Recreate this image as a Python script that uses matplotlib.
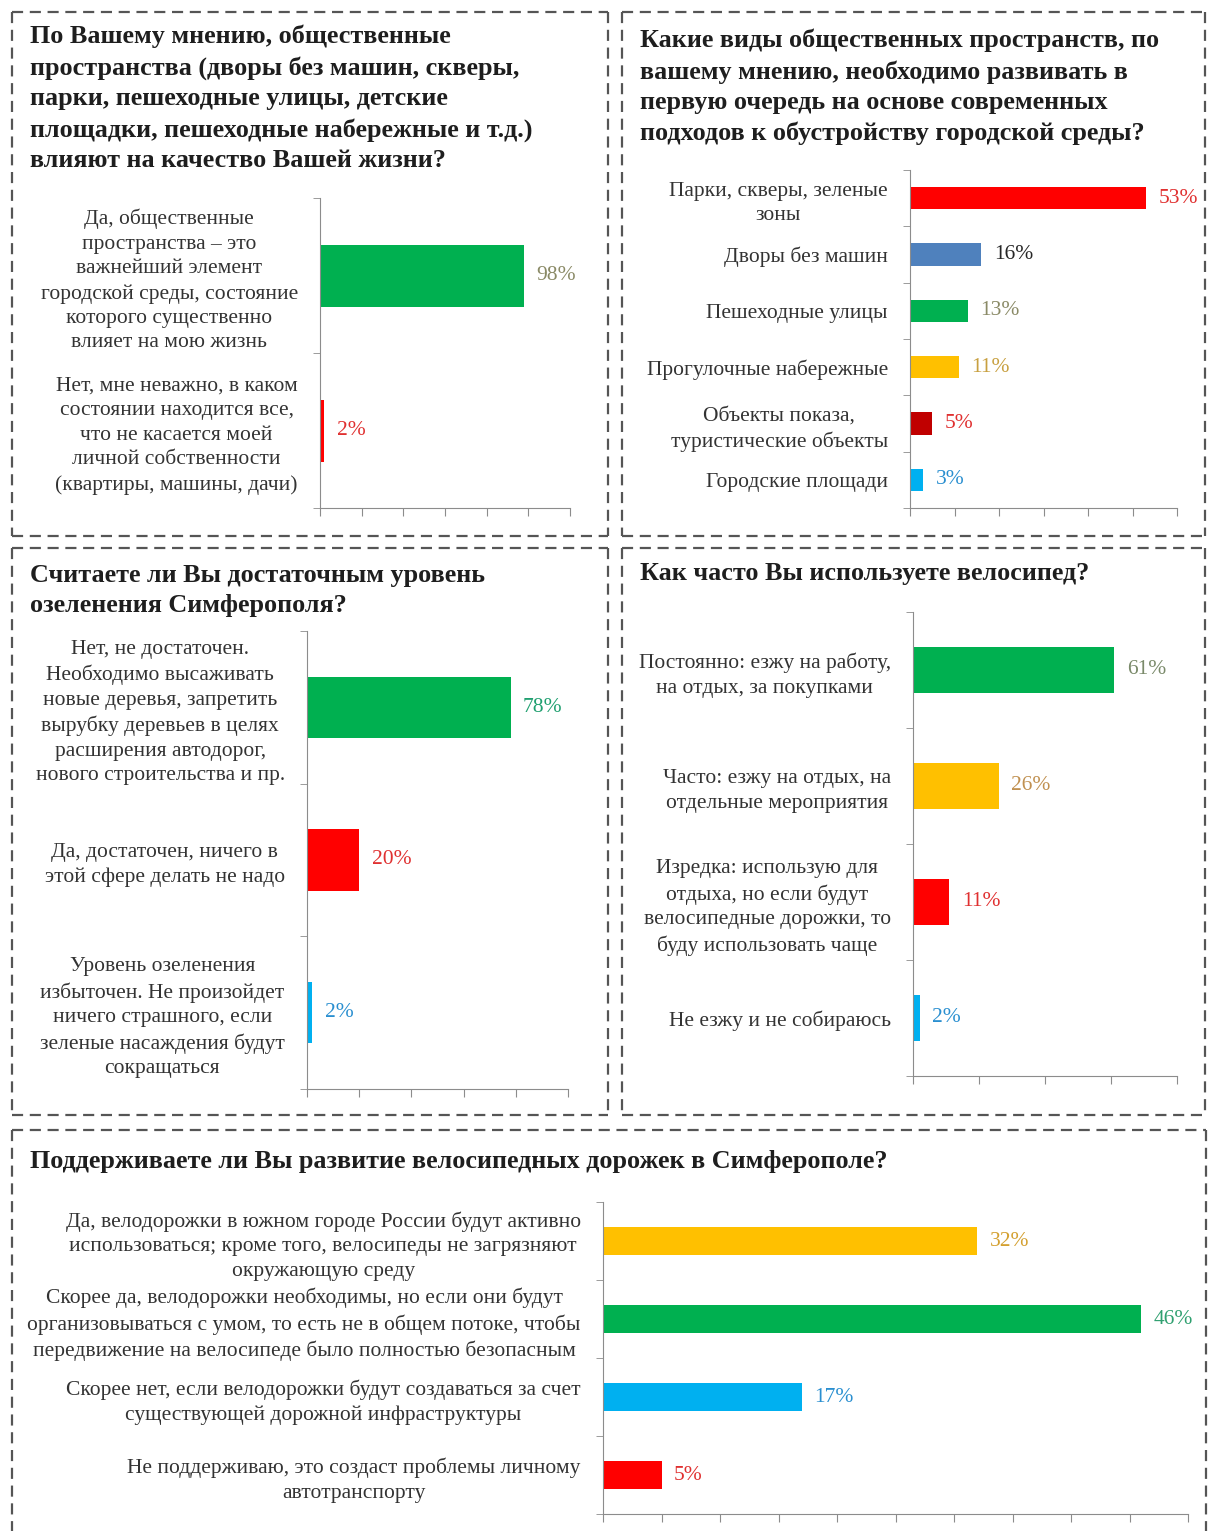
import numpy as np
import matplotlib
matplotlib.use("Agg")
import matplotlib.pyplot as plt
from matplotlib.lines import Line2D

plt.rcParams['font.family'] = ['Liberation Serif', 'DejaVu Serif']

W, H = 1208, 1531

# ---- data ----
title1 = ("По Вашему мнению, общественные\nпространства (дворы без машин, скверы,\n"
          "парки, пешеходные улицы, детские\nплощадки, пешеходные набережные и т.д.)\n"
          "влияют на качество Вашей жизни?")
cats1 = ["Да, общественные\nпространства – это\nважнейший элемент\nгородской среды, состояние\n"
         "которого существенно\nвлияет на мою жизнь",
         "Нет, мне неважно, в каком\nсостоянии находится все,\nчто не касается моей\n"
         "личной собственности\n(квартиры, машины, дачи)"]
vals1 = [98, 2]

title2 = ("Какие виды общественных пространств, по\nвашему мнению, необходимо развивать в\n"
          "первую очередь на основе современных\nподходов к обустройству городской среды?")
cats2 = ["Парки, скверы, зеленые\nзоны", "Дворы без машин", "Пешеходные улицы",
         "Прогулочные набережные", "Объекты показа,\nтуристические объекты", "Городские площади"]
vals2 = [53, 16, 13, 11, 5, 3]

title3 = "Считаете ли Вы достаточным уровень\nозеленения Симферополя?"
cats3 = ["Нет, не достаточен.\nНеобходимо высаживать\nновые деревья, запретить\nвырубку деревьев в целях\n"
         "расширения автодорог,\nнового строительства и пр.",
         "Да, достаточен, ничего в\nэтой сфере делать не надо",
         "Уровень озеленения\nизбыточен. Не произойдет\nничего страшного, если\nзеленые насаждения будут\n"
         "сокращаться"]
vals3 = [78, 20, 2]

title4 = "Как часто Вы используете велосипед?"
cats4 = ["Постоянно: езжу на работу,\nна отдых, за покупками",
         "Часто: езжу на отдых, на\nотдельные мероприятия",
         "Изредка: использую для\nотдыха, но если будут\nвелосипедные дорожки, то\nбуду использовать чаще",
         "Не езжу и не собираюсь"]
vals4 = [61, 26, 11, 2]

title5 = "Поддерживаете ли Вы развитие велосипедных дорожек в Симферополе?"
cats5 = ["Да, велодорожки в южном городе России будут активно\nиспользоваться; кроме того, велосипеды не загрязняют\n"
         "окружающую среду",
         "Скорее да, велодорожки необходимы, но если они будут\nорганизовываться с умом, то есть не в общем потоке, чтобы\n"
         "передвижение на велосипеде было полностью безопасным",
         "Скорее нет, если велодорожки будут создаваться за счет\nсуществующей дорожной инфраструктуры",
         "Не поддерживаю, это создаст проблемы личному\nавтотранспорту"]
vals5 = [32, 46, 17, 5]

# ---- styles ----
GREEN, RED, BLUE, GOLD, DRED, LBLUE = '#00B050', '#FF0000', '#4F81BD', '#FFC000', '#C00000', '#00B0F0'
bar1 = [GREEN, RED]
lab1 = ['#8a8a66', '#e03030']
bar2 = [RED, BLUE, GREEN, GOLD, DRED, LBLUE]
lab2 = ['#e03030', '#262626', '#8a8a66', '#c8a040', '#e03030', '#2a8fd0']
bar3 = [GREEN, RED, LBLUE]
lab3 = ['#20a070', '#e03030', '#2a8fd0']
bar4 = [GREEN, GOLD, RED, LBLUE]
lab4 = ['#7a8a6a', '#c09050', '#e03030', '#2a8fd0']
bar5 = [GOLD, GREEN, LBLUE, RED]
lab5 = ['#d4a030', '#30a070', '#2a8fd0', '#e03030']

AXC = '#8c8c8c'
TXT = '#333333'

fig = plt.figure(figsize=(W / 100, H / 100), dpi=100)


def px_axes(x0, y0, x1, y1):
    return fig.add_axes([x0 / W, 1 - y1 / H, (x1 - x0) / W, (y1 - y0) / H])


def panel_box(x0, y0, x1, y1):
    for xs, ys in [((x0, x1), (y0, y0)), ((x0, x1), (y1, y1)),
                   ((x0, x0), (y0, y1)), ((x1, x1), (y0, y1))]:
        fig.add_artist(Line2D([x / W for x in xs], [1 - y / H for y in ys],
                              color='#555555', lw=1.6, dashes=(5, 3)))


def bar_panel(rect, cats, vals, colors, lcolors, xmax, step, height=0.4):
    ax = px_axes(*rect)
    n = len(cats)
    pos = np.arange(n)
    ax.barh(pos, vals, height=height, color=colors)
    ax.set_ylim(n - 0.5, -0.5)
    ax.set_xlim(0, xmax)
    ax.set_xticks(np.arange(0, xmax + 0.1, step))
    ax.set_xticklabels([])
    ax.set_yticks(pos)
    ax.set_yticklabels(cats, fontsize=15.5, color=TXT, multialignment='center', linespacing=1.39)
    ax.set_yticks(np.arange(-0.5, n, 1), minor=True)
    ax.tick_params(axis='y', which='major', length=0, pad=16)
    ax.tick_params(axis='y', which='minor', length=5, color=AXC, direction='out')
    ax.tick_params(axis='x', length=6, color=AXC, direction='out')
    for s in ['top', 'right']:
        ax.spines[s].set_visible(False)
    for s in ['left', 'bottom']:
        ax.spines[s].set_color(AXC)
    for p, v, c in zip(pos, vals, lcolors):
        ax.annotate(f"{v}%", (v, p), xytext=(9, 0), textcoords='offset points',
                    va='center', ha='left', fontsize=15.5, color=c)
    return ax


def title(x, y, s):
    fig.text(x / W, 1 - y / H, s, fontsize=18.8, fontweight='bold', color='#1e1e1e',
             va='top', ha='left', linespacing=1.41)


# panel frames
panel_box(12, 12, 608, 536)
panel_box(622, 12, 1205, 536)
panel_box(12, 548, 608, 1115)
panel_box(622, 548, 1205, 1115)
panel_box(12, 1130, 1206, 1536)

title(30, 25, title1)
title(640, 29, title2)
title(30, 564, title3)
title(640, 562, title4)
title(30, 1150, title5)

bar_panel((320, 198, 570, 508), cats1, vals1, bar1, lab1, 120, 20)
bar_panel((910, 170, 1177, 508), cats2, vals2, bar2, lab2, 60, 10)
bar_panel((307, 631, 568, 1089), cats3, vals3, bar3, lab3, 100, 20)
bar_panel((913, 612, 1177, 1076), cats4, vals4, bar4, lab4, 80, 20)
bar_panel((603, 1202, 1188, 1514), cats5, vals5, bar5, lab5, 50, 5, height=0.36)

fig.savefig('out.png', dpi=100)
